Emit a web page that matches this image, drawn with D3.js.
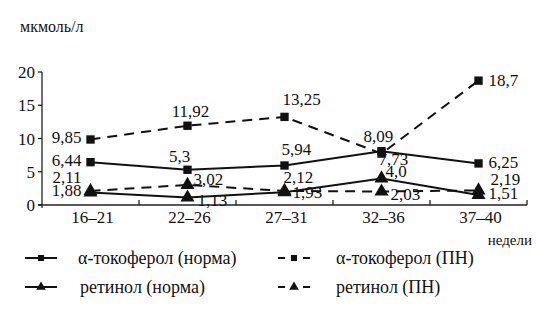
<!DOCTYPE html>
<html>
<head>
<meta charset="utf-8">
<script src="https://cdn.jsdelivr.net/npm/d3@7"></script>
<style>
  body { margin: 0; background: #fff; font-family: "Liberation Serif", serif; }
</style>
</head>
<body>
<div id="root"></div>
<script>
var weeks = ["16–21", "22–26", "27–31", "32–36", "37–40"];
var yTicks = [0, 5, 10, 15, 20];

var tocNorm = [6.44, 5.3, 5.94, 8.09, 6.25];
var tocPN = [9.85, 11.92, 13.25, 7.73, 18.7];
var retNorm = [1.88, 1.13, 1.93, 4.0, 1.51];
var retPN = [2.11, 3.02, 2.12, 2.03, 2.19];

var seriesNames = ["α-токоферол (норма)", "α-токоферол (ПН)", "ретинол (норма)", "ретинол (ПН)"];

// label placement per point: [dx, dy, anchor]
var tocNormLab = [[-9, 4, "end"], [-8, -8, "middle"], [-3, -10, "start"], [-18, -9, "start"], [10, 5, "start"]];
var tocPNLab = [[-9, 4, "end"], [3, -9, "middle"], [-2, -12, "start"], [-3, 11, "start"], [10, 5, "start"]];
var retNormLab = [[-9, 4, "end"], [10, 9, "start"], [8, 6, "start"], [4, -1, "start"], [10, 4, "start"]];
var retPNLab = [[-9, -8, "end"], [6, 0, "start"], [-1, -8, "start"], [9, 8, "start"], [12, -5, "start"]];

var FONT = "Liberation Serif";

var svg = d3.select("#root")
    .append("svg")
    .attr("width", 537)
    .attr("height", 313)
    .attr("font-family", FONT);

var x = d3.scaleBand().domain(weeks).range([42, 527]).padding(0);
var y = d3.scaleLinear().domain([0, 20]).range([205, 72]);

function txt(sel, size) {
    return sel.attr("font-family", FONT).attr("font-size", size).attr("fill", "#111");
}

// y axis
svg.append("line").attr("x1", 42).attr("x2", 42).attr("y1", y(20)).attr("y2", y(0) + 3)
    .attr("stroke", "#222").attr("stroke-width", 1.3);
svg.selectAll(".ytick").data(yTicks).enter().append("line")
    .attr("x1", 38).attr("x2", 42)
    .attr("y1", function (d) { return y(d); })
    .attr("y2", function (d) { return y(d); })
    .attr("stroke", "#222").attr("stroke-width", 1.3);
txt(svg.selectAll(".ylab").data(yTicks).enter().append("text")
    .attr("x", 35)
    .attr("y", function (d) { return y(d) + 6; })
    .attr("text-anchor", "end")
    .text(function (d) { return d; }), 17);

// x axis
svg.append("line").attr("x1", 38).attr("x2", 527).attr("y1", y(0)).attr("y2", y(0))
    .attr("stroke", "#222").attr("stroke-width", 1.3);
var bounds = weeks.map(function (w) { return x(w) + x.bandwidth(); });
svg.selectAll(".xtick").data(bounds).enter().append("line")
    .attr("x1", function (d) { return d; })
    .attr("x2", function (d) { return d; })
    .attr("y1", y(0)).attr("y2", y(0) - 5)
    .attr("stroke", "#222").attr("stroke-width", 1.3);
txt(svg.selectAll(".xlab").data(weeks).enter().append("text")
    .attr("x", function (d) { return x(d) + x.bandwidth() / 2 + 2; })
    .attr("y", 223)
    .attr("text-anchor", "middle")
    .text(function (d) { return d; }), 17);

txt(svg.append("text").attr("x", 20).attr("y", 32).text("мкмоль/л"), 16);
txt(svg.append("text").attr("x", 532).attr("y", 245).attr("text-anchor", "end").text("недели"), 15);

var cx = function (d, i) { return x(weeks[i]) + x.bandwidth() / 2; };
var line = d3.line().x(function (d, i) { return x(weeks[i]) + x.bandwidth() / 2; }).y(function (d) { return y(d); });

var square = d3.symbol().type(d3.symbolSquare).size(70);
var triangle = d3.symbol().type(d3.symbolTriangle).size(85);
var squareSm = d3.symbol().type(d3.symbolSquare).size(36);
var triangleSm = d3.symbol().type(d3.symbolTriangle).size(40);

var series = [
    { vals: tocNorm, dash: null, sym: square, lab: tocNormLab },
    { vals: tocPN, dash: "10,7", sym: square, lab: tocPNLab },
    { vals: retNorm, dash: null, sym: triangle, lab: retNormLab },
    { vals: retPN, dash: "10,7", sym: triangle, lab: retPNLab }
];

series.forEach(function (s) {
    svg.append("path").datum(s.vals)
        .attr("d", line)
        .attr("fill", "none")
        .attr("stroke", "#111")
        .attr("stroke-width", 2)
        .attr("stroke-dasharray", s.dash);
    svg.selectAll(null).data(s.vals).enter().append("path")
        .attr("d", s.sym)
        .attr("transform", function (d, i) { return "translate(" + cx(d, i) + "," + y(d) + ")"; })
        .attr("fill", "#111");
    txt(svg.selectAll(null).data(s.vals).enter().append("text")
        .attr("x", function (d, i) { return cx(d, i) + s.lab[i][0]; })
        .attr("y", function (d, i) { return y(d) + s.lab[i][1]; })
        .attr("text-anchor", function (d, i) { return s.lab[i][2]; })
        .text(function (d) { return String(d === 4 ? "4,0" : d).replace(".", ","); }), 17);
});

// legend
var legend = [
    { name: seriesNames[0], dash: false, sym: squareSm, lx: 25, ly: 258, tx: 78 },
    { name: seriesNames[1], dash: true, sym: squareSm, lx: 278, ly: 258, tx: 336 },
    { name: seriesNames[2], dash: false, sym: triangleSm, lx: 25, ly: 287, tx: 80 },
    { name: seriesNames[3], dash: true, sym: triangleSm, lx: 278, ly: 287, tx: 336 }
];
legend.forEach(function (l) {
    var w = 32;
    svg.append("line").attr("x1", l.lx).attr("x2", l.lx + w).attr("y1", l.ly).attr("y2", l.ly)
        .attr("stroke", "#111").attr("stroke-width", 2)
        .attr("stroke-dasharray", l.dash ? "7,18,7" : null);
    svg.append("path").attr("d", l.sym)
        .attr("transform", "translate(" + (l.lx + w / 2) + "," + l.ly + ")")
        .attr("fill", "#111");
    txt(svg.append("text").attr("x", l.tx).attr("y", l.ly + 6).text(l.name), 18);
});
</script>
</body>
</html>
